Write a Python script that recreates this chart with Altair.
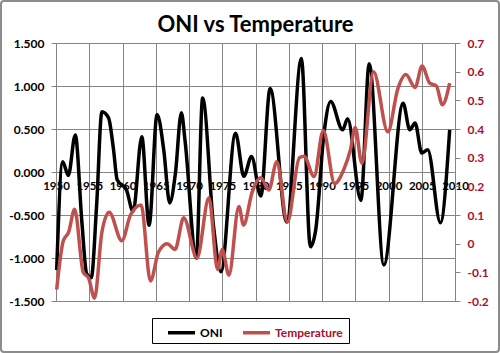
import altair as alt
import pandas as pd

# ---- data ----
oni_year = [1950.1, 1951.0, 1951.85, 1952.9, 1953.9, 1954.6, 1955.3, 1956.1, 1956.9, 1957.9,
            1958.65, 1959.2, 1960.6, 1961.6, 1962.9, 1964.0, 1965.2, 1966.2, 1967.1, 1967.95,
            1968.85, 1969.4, 1971.1, 1972.05, 1973.7, 1974.8, 1977.0, 1978.25, 1979.4, 1980.8,
            1982.2, 1984.7, 1986.9, 1988.25, 1989.06, 1990.3, 1991.3, 1993.1, 1993.85, 1995.85,
            1997.1, 1999.3, 2002.2, 2003.2, 2004.0, 2005.0, 2005.9, 2007.8, 2009.2]
oni_value = [-1.14, 0.12, -0.04, 0.43, -0.59, -1.18, -1.23, -0.40, 0.70, 0.63,
             0.26, -0.09, -0.21, -0.46, 0.41, -0.62, 0.67, 0.26, -0.36, -0.02,
             0.69, 0.37, -1.00, 0.86, -0.64, -1.16, 0.45, -0.05, 0.18, -0.28,
             0.97, -0.58, 1.32, -0.87, -0.67, 0.45, 0.82, 0.49, 0.62, -0.33,
             1.26, -1.08, 0.80, 0.49, 0.57, 0.22, 0.26, -0.59, 0.49]

temp_year = [1950.1, 1951.1, 1951.9, 1952.8, 1954.1, 1954.9, 1955.8, 1956.9, 1958.0, 1959.9,
             1961.2, 1962.8, 1964.2, 1965.4, 1966.7, 1967.9, 1969.2, 1971.2, 1973.0, 1974.3,
             1975.0, 1976.0, 1977.5, 1978.2, 1979.5, 1980.8, 1982.0, 1983.2, 1984.8, 1986.6,
             1987.3, 1988.8, 1990.2, 1991.9, 1993.3, 1994.3, 1995.0, 1996.0, 1997.75, 1999.9,
             2001.4, 2002.6, 2004.0, 2005.05, 2006.2, 2007.2, 2008.1, 2009.2]
temp_value = [-0.16, 0.01, 0.04, 0.12, -0.10, -0.12, -0.19, 0.04, 0.11, 0.01,
              0.10, 0.135, -0.13, -0.03, 0.00, -0.02, 0.09, -0.05, 0.16, -0.09,
              -0.02, -0.11, 0.13, 0.065, 0.18, 0.23, 0.187, 0.286, 0.075, 0.30,
              0.305, 0.234, 0.395, 0.21, 0.26, 0.33, 0.405, 0.28, 0.60, 0.39,
              0.54, 0.59, 0.545, 0.62, 0.56, 0.55, 0.485, 0.56]

series_names = ["ONI", "Temperature"]
x_ticks = [1950, 1955, 1960, 1965, 1970, 1975, 1980, 1985, 1990, 1995, 2000, 2005, 2010]
oni_ticks = [-1.5, -1.0, -0.5, 0.0, 0.5, 1.0, 1.5]
temp_ticks = [-0.2, -0.1, 0.0, 0.1, 0.2, 0.3, 0.4, 0.5, 0.6, 0.7]

df = pd.concat([
    pd.DataFrame({"year": oni_year, "value": oni_value, "series": series_names[0]}),
    pd.DataFrame({"year": temp_year, "value": temp_value, "series": series_names[1]}),
], ignore_index=True)

W, H = 399, 258
GRID = "#868686"
RED_TXT = "#A8102A"
FONT = "Lato"
MINUS = "\u2212"

color = alt.Color(
    "series:N",
    scale=alt.Scale(domain=series_names, range=["#000000", "#C0504D"]),
    legend=alt.Legend(
        title=None, orient="none", legendX=110, legendY=274, direction="horizontal",
        padding=0,
        symbolType="stroke", symbolStrokeWidth=3.5, symbolSize=729,
        labelFont=FONT, labelFontSize=12, labelFontWeight="bold", labelOffset=3,
        columnPadding=13,
        labelColor=alt.ExprRef("datum.value == 'Temperature' ? '%s' : '#000000'" % RED_TXT),
    ),
)

x_enc = alt.X(
    "year:Q",
    scale=alt.Scale(domain=[1950, 2010], nice=False, zero=False),
    axis=alt.Axis(values=x_ticks, format="d", title=None, grid=True, gridColor=GRID,
                  gridWidth=1, offset=-129, domain=False, ticks=False,
                  labelFont=FONT, labelFontSize=11.5, labelFontWeight="bold",
                  labelColor="#000000", labelPadding=8, labelOverlap=False,
                  labelFlush=False),
)

oni = alt.Chart(df).transform_filter(alt.datum.series == "ONI").mark_line(
    strokeWidth=3.5, interpolate="monotone"
).encode(
    x=x_enc,
    y=alt.Y("value:Q", scale=alt.Scale(domain=[-1.5, 1.5], nice=False, zero=False),
            axis=alt.Axis(values=oni_ticks, format=".3f", title=None, grid=True,
                          gridColor=GRID, domainColor=GRID, tickColor=GRID, tickSize=5,
                          labelFont=FONT, labelFontSize=12, labelFontWeight="bold",
                          labelColor="#000000", labelPadding=7,
                          labelExpr="replace(datum.label, '%s', '-')" % MINUS)),
    color=color,
)

temp = alt.Chart(df).transform_filter(alt.datum.series == "Temperature").mark_line(
    strokeWidth=3.5, interpolate="monotone"
).encode(
    x=x_enc,
    y=alt.Y("value:Q", scale=alt.Scale(domain=[-0.2, 0.7], nice=False, zero=False),
            axis=alt.Axis(values=temp_ticks, orient="right", title=None, grid=False,
                          domainColor=GRID, tickColor=GRID, tickSize=5,
                          labelFont=FONT, labelFontSize=12, labelFontWeight="bold",
                          labelColor=RED_TXT, labelPadding=7,
                          labelExpr="replace(format(datum.value, '.1~f'), '%s', '-')" % MINUS)),
    color=color,
)

deco = pd.DataFrame({"f": [0]})
frame = alt.Chart(deco).mark_rect(
    fill=None, stroke="#8c8c8c", strokeWidth=2, cornerRadius=3
).encode(x=alt.value(-55), x2=alt.value(W + 44), y=alt.value(-42), y2=alt.value(H + 51))

legend_box = alt.Chart(deco).mark_rect(
    fill="#ffffff", stroke="#000000", strokeWidth=1
).encode(x=alt.value(96.5), x2=alt.value(293.5), y=alt.value(275.5), y2=alt.value(300.5))

chart = alt.layer(legend_box, oni, temp, frame).resolve_scale(y="independent").properties(
    width=W, height=H,
    title=alt.TitleParams("ONI vs Temperature", font=FONT, fontSize=22, fontWeight="bold",
                          color="#000000", anchor="middle", offset=12, dy=66,
                          baseline="alphabetic"),
    autosize=alt.AutoSizeParams(type="none"),
    padding={"left": 56, "top": 43, "right": 45, "bottom": 52},
).configure_view(stroke=None).configure(background="#ffffff")

chart.save("out.html", embed_options={"renderer": "svg", "actions": False})
